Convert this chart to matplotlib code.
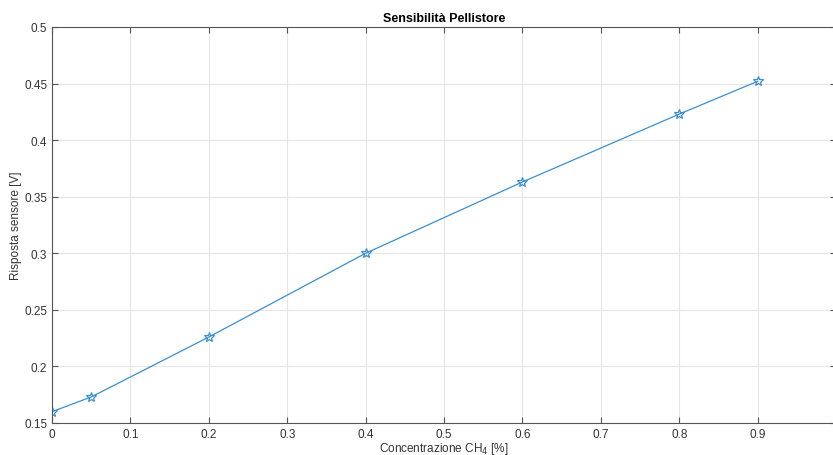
import matplotlib
matplotlib.use('Agg')
import matplotlib.pyplot as plt

# data
conc = [0, 0.05, 0.2, 0.4, 0.6, 0.8, 0.9]
risposta = [0.160, 0.173, 0.226, 0.300, 0.363, 0.423, 0.452]
xticks = [0, 0.1, 0.2, 0.3, 0.4, 0.5, 0.6, 0.7, 0.8, 0.9, 1.0]
xlabels = ['0', '0.1', '0.2', '0.3', '0.4', '0.5', '0.6', '0.7', '0.8', '0.9', '']
yticks = [0.15, 0.2, 0.25, 0.3, 0.35, 0.4, 0.45, 0.5]
ylabels = ['0.15', '0.2', '0.25', '0.3', '0.35', '0.4', '0.45', '0.5']

plt.rcParams['font.family'] = ['Liberation Sans', 'DejaVu Sans']

fig = plt.figure(figsize=(8.33, 4.56), dpi=100)
fig.patch.set_facecolor('white')
# axes run slightly past the right edge, as in the cropped original
ax = fig.add_axes([52/833, 32/456, 784/833, 396/456])

ax.plot(conc, risposta, color='#3a8fd0', lw=0.9, marker='*', ms=7,
        markerfacecolor='none', markeredgewidth=0.9)

ax.set_xlim(0, 1.0)
ax.set_ylim(0.15, 0.5)
ax.set_xticks(xticks)
ax.set_xticklabels(xlabels)
ax.set_yticks(yticks)
ax.set_yticklabels(ylabels)
ax.grid(True, color='#e6e6e6', lw=0.8)
ax.set_axisbelow(True)
ax.tick_params(direction='in', top=True, right=True, length=4,
               color='#555555', labelcolor='#333333', labelsize=8.5)
ax.tick_params(axis='y', pad=3.5)
for spine in ax.spines.values():
    spine.set_edgecolor('#555555')
    spine.set_linewidth(0.8)

ax.set_title('Sensibilità Pellistore', fontsize=9, fontweight='bold', pad=4)
ax.set_xlabel('Concentrazione CH$_4$ [%]', fontsize=8.5, color='#333333')
ax.set_ylabel('Risposta sensore [V]', fontsize=8.5, color='#333333')
ax.xaxis.set_label_coords(0.5, -0.043)
ax.yaxis.set_label_coords(-0.038, 0.5)

fig.savefig('out.png', dpi=100)
